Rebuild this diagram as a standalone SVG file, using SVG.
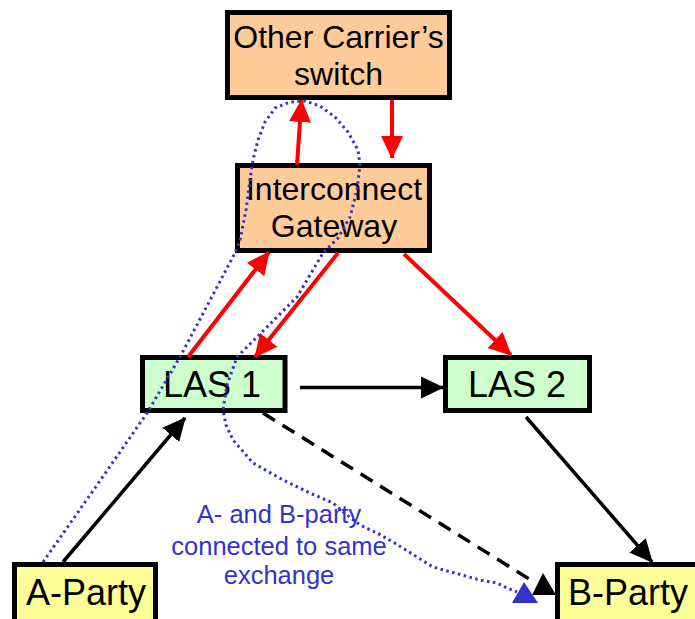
<svg xmlns="http://www.w3.org/2000/svg" width="695" height="619" viewBox="0 0 695 619">
<style>
.box{stroke:#000;stroke-width:5}
.orange{fill:#FFCC99}
.green{fill:#CCFFCC}
.yellow{fill:#FFFF99}
.lbl{font-family:"Liberation Sans",Arial,sans-serif;fill:#000;text-anchor:middle}
.big{font-size:36px}
.mid{font-size:32px}
.note{font-family:"Liberation Sans",Arial,sans-serif;font-size:25.5px;fill:#3333CC;text-anchor:middle}
.red{stroke:#FF0000;stroke-width:4;fill:none;marker-end:url(#ah-red)}
.blk{stroke:#000;stroke-width:3.5;fill:none;marker-end:url(#ah-blk)}
.dash{stroke:#000;stroke-width:3.5;fill:none;stroke-dasharray:14 9}
.dot{stroke:#3333CC;stroke-width:3;fill:none;stroke-dasharray:2.5 3.5}
</style>
<defs>
<marker id="ah-red" markerUnits="userSpaceOnUse" markerWidth="24" markerHeight="24" refX="22" refY="12" orient="auto" viewBox="0 0 24 24">
<path d="M0,1 L23,12 L0,23 z" fill="#FF0000"/>
</marker>
<marker id="ah-blk" markerUnits="userSpaceOnUse" markerWidth="24" markerHeight="24" refX="22" refY="12" orient="auto" viewBox="0 0 24 24">
<path d="M0,1 L23,12 L0,23 z" fill="#000"/>
</marker>
</defs>
<rect width="695" height="619" fill="#fff"/>
<g id="other-carrier">
<rect class="box orange" x="227.5" y="12.5" width="222" height="85"/>
<text class="lbl mid" x="338.5" y="48">Other Carrier’s</text>
<text class="lbl mid" x="338.5" y="85">switch</text>
</g>
<g id="interconnect-gateway">
<rect class="box orange" x="237.5" y="165.5" width="192" height="85"/>
<text class="lbl mid" x="334" y="200">Interconnect</text>
<text class="lbl mid" x="334" y="237">Gateway</text>
</g>
<g id="las1">
<rect class="box green" x="142.5" y="357.5" width="142.5" height="53"/>
<text class="lbl big" x="212" y="397">LAS 1</text>
</g>
<g id="las2">
<rect class="box green" x="445.5" y="357.5" width="144" height="53"/>
<text class="lbl big" x="517" y="397">LAS 2</text>
</g>
<g id="a-party">
<rect class="box yellow" x="14.5" y="564.5" width="141" height="70"/>
<text class="lbl big" x="86" y="605">A-Party</text>
</g>
<g id="b-party">
<rect class="box yellow" x="557.5" y="564.5" width="150" height="70"/>
<text class="lbl big" x="628" y="605">B-Party</text>
</g>
<g id="note">
<text class="note" x="279" y="523">A- and B-party</text>
<text class="note" x="279" y="555">connected to same</text>
<text class="note" x="279" y="584">exchange</text>
</g>
<g id="connectors">
<line class="red" x1="297" y1="165" x2="301.5" y2="100"/>
<line class="red" x1="392" y1="100" x2="392" y2="158"/>
<line class="red" x1="188" y1="357" x2="269" y2="252"/>
<line class="red" x1="338" y1="253" x2="255" y2="357"/>
<line class="red" x1="404" y1="254" x2="511" y2="355"/>
<line class="blk" x1="300" y1="387.5" x2="443" y2="387.5"/>
<line class="blk" x1="63" y1="562" x2="185" y2="418"/>
<line class="blk" x1="526" y1="417" x2="652" y2="562"/>
<line class="dash" x1="263" y1="413" x2="534" y2="582"/>
<polygon points="532,595 556,595 543,573" fill="#000"/>
<polyline class="dot" points="43,562 95,488 147,413 180,357 235,253 240,240 246,210 250,180 253,160 258,140 265,122 275,108 290,102 305,101 320,106 335,117 348,132 358,150 360,165 357,190 350,217 338,238 323,253 297,297 266,328 237,357 227,385 223,410 226,425 233,440 253,463 283,480 310,493 333,503 347,515 360,525 377,533 393,542 433,567 480,580 497,583 507,588 517,592"/>
<polygon points="512,603 538,603 524,582" fill="#3333CC"/>
</g>
</svg>
